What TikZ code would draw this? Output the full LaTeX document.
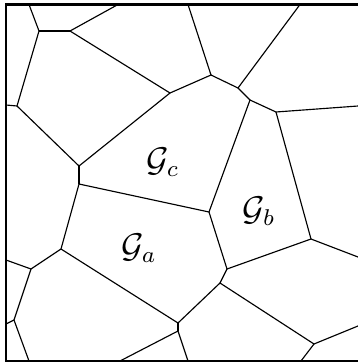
\documentclass[tikz,border=0pt]{standalone}
\begin{document}
\begin{tikzpicture}[x=0.35pt,y=-0.35pt,
    cell/.style={line width=0.4pt},
    frame/.style={line width=0.8pt},
    lbl/.style={font=\large}]
            \useasboundingbox (0,0) rectangle (358,363);
            % inner vertices
            \foreach \n/\x/\y in {a/39/31,b/70/31,c/170/93,d/17/106,e/79/166,
                f/211/75,g/238/88,h/250/100,i/276/112,j/79/184,k/61/249,
                l/209/212,m/31/269,n/14/320,o/178/323,p/178/331,q/227/269,
                r/311/239,s/220/283,t/314/344}
            \coordinate (\n) at (\x,\y);
            % ends on the border
            \foreach \n/\x/\y in {t1/29/4.5,t2/118/4.5,t3/188/4.5,t4/300/4.5,
                w1/6/105,w2/6/260,w3/6/324,
                b1/29/361,b2/120/361,b3/188/361,b4/301/361,
                e1/358/106,e2/358/257,e3/358/326}
            \coordinate (\n) at (\x,\y);
            \draw[frame] (358,4.5) -| (6,361) -- (358,361);
            \foreach \u/\v in {t1/a,a/b,b/t2,b/c,a/d,d/w1,d/e,e/c,c/f,f/t3,
                f/g,g/t4,g/h,h/i,i/e1,h/l,i/r,e/j,j/l,j/k,k/m,m/w2,m/n,
                n/w3,n/b1,k/o,o/s,o/p,p/b2,p/b3,l/q,q/r,r/e2,q/s,s/t,
                t/b4,t/e3}
            \draw[cell] (\u) -- (\v);
            \node[lbl] (gc) at (163,162) {$\mathcal{G}_c$};
            \node[lbl] (ga) at (139,248) {$\mathcal{G}_a$};
            \node[lbl] (gb) at (259,211) {$\mathcal{G}_b$};
        \end{tikzpicture}
\end{document}
